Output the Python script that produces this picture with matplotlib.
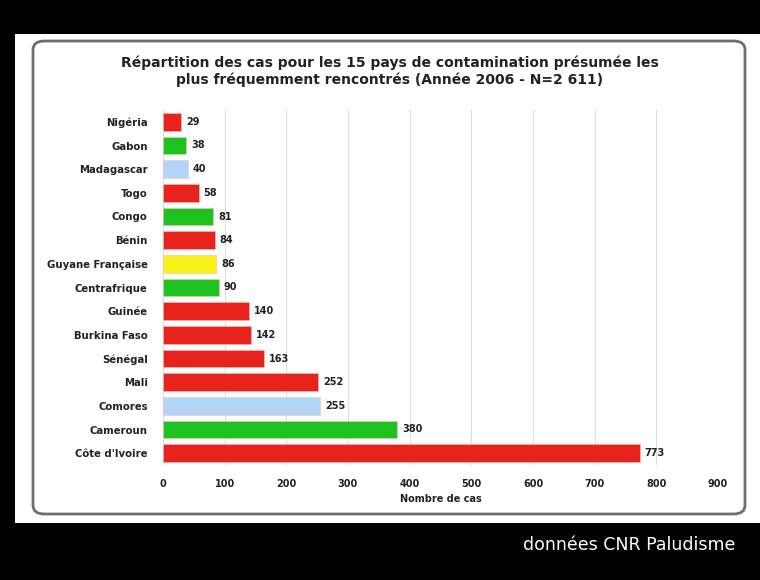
import matplotlib.pyplot as plt
from matplotlib.patches import Rectangle, FancyBboxPatch

countries = ["Nigéria", "Gabon", "Madagascar", "Togo", "Congo", "Bénin",
             "Guyane Française", "Centrafrique", "Guinée", "Burkina Faso",
             "Sénégal", "Mali", "Comores", "Cameroun", "Côte d'Ivoire"]
cases = [29, 38, 40, 58, 81, 84, 86, 90, 140, 142, 163, 252, 255, 380, 773]
groups = ["r", "g", "b", "r", "g", "r", "y", "g", "r", "r", "r", "r", "b", "g", "r"]
palette = {"r": "#e8231b", "g": "#1ec21e", "b": "#b3d5f7", "y": "#f8f21a"}
xticks = [0, 100, 200, 300, 400, 500, 600, 700, 800, 900]

fig = plt.figure(figsize=(7.6, 5.8), dpi=100, facecolor="black")

# white panel and rounded frame (figure pixels -> fraction)
W, H = 760, 580
fig.patches.append(Rectangle((15 / W, (H - 523) / H), 1, (523 - 34) / H,
                             transform=fig.transFigure, facecolor="white",
                             edgecolor="none", zorder=0))
fig.patches.append(FancyBboxPatch((33 / W, (H - 514) / H), 712 / W, 473 / H,
                                  boxstyle="round,pad=0,rounding_size=0.015",
                                  transform=fig.transFigure, facecolor="white",
                                  edgecolor="#6e6e6e", linewidth=2, zorder=0.5))

ax = fig.add_axes([163 / W, (H - 465) / H, 555 / W, 355 / H])
ax.set_zorder(2)
ax.set_facecolor("none")
ypos = list(range(len(countries)))
colors = [palette[g] for g in groups]
ax.barh(ypos, cases, height=0.76, color=colors, edgecolor="#f4c0b8",
        linewidth=0.4, zorder=3)
for y, v in zip(ypos, cases):
    ax.text(v + 8, y, str(v), va="center", ha="left", fontsize=7,
            fontweight="bold", color="#222222")

ax.set_ylim(14.5, -0.5)
ax.set_xlim(0, 900)
ax.set_yticks(ypos)
ax.set_yticklabels(countries, fontsize=7.3, fontweight="bold", color="#222222")
ax.set_xticks(xticks)
ax.set_xticklabels([str(t) for t in xticks], fontsize=7, fontweight="bold",
                   color="#222222")
ax.tick_params(length=0, pad=10)
ax.tick_params(axis="y", pad=11)
ax.grid(axis="x", color="#dddddd", linewidth=0.8, zorder=0)
for s in ax.spines.values():
    s.set_visible(False)
ax.set_xlabel("Nombre de cas", fontsize=7, fontweight="bold", color="#222222",
              labelpad=4)

fig.text(0.513, (H - 71) / H,
         "Répartition des cas pour les 15 pays de contamination présumée les\n"
         "plus fréquemment rencontrés (Année 2006 - N=2 611)",
         ha="center", va="center", fontsize=10, fontweight="bold",
         color="#222222", linespacing=1.25)

fig.text(735 / W, (H - 545) / H, "données CNR Paludisme", ha="right",
         va="center", fontsize=12.5, color="white")

plt.savefig("out.png", dpi=100, facecolor="black")
